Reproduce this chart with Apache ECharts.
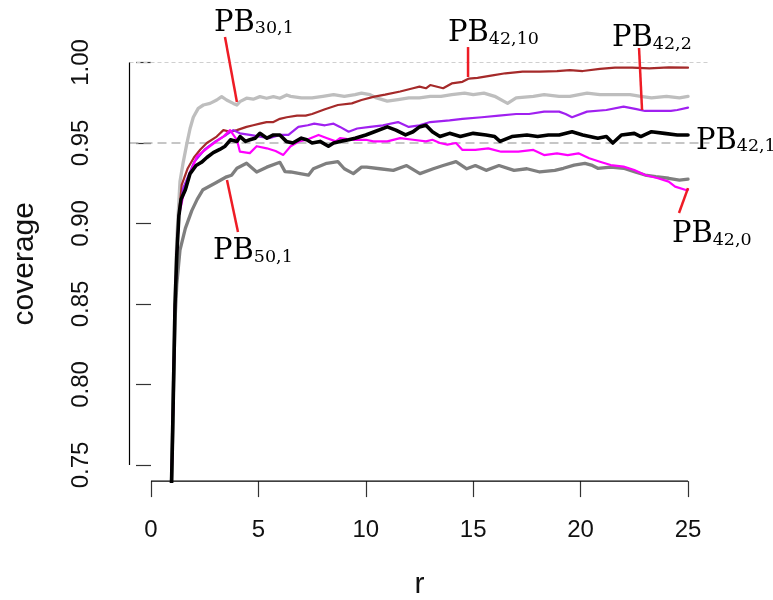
<!DOCTYPE html>
<html><head><meta charset="utf-8">
<script src="https://cdn.jsdelivr.net/npm/echarts@6/dist/echarts.min.js"></script>
<style>html,body{margin:0;padding:0;background:#fff}#c{width:773px;height:600px}</style>
</head><body><div id="c"></div>
<script>
// ---------- data ----------
const xTicks = [0, 5, 10, 15, 20, 25];
const yTicks = [0.75, 0.80, 0.85, 0.90, 0.95, 1.00];
const refLevels = [1.00, 0.95];
const xLabel = 'r';
const yLabel = 'coverage';

// [r, coverage]
const pb30_1 = [[0.95,0.735],[1.0,0.77],[1.1,0.84],[1.2,0.89],[1.35,0.926],[1.5,0.938],[1.66,0.949],[1.82,0.959],[1.97,0.966],[2.2,0.9715],[2.44,0.9736],[2.75,0.9746],[3.06,0.9767],[3.29,0.9788],[3.52,0.9767],[3.83,0.9746],[4.0,0.9736],[4.14,0.9757],[4.45,0.9778],[4.76,0.9772],[5.07,0.9788],[5.38,0.9778],[5.7,0.9788],[6.0,0.9778],[6.32,0.9798],[6.5,0.979],[7.0,0.978],[7.5,0.978],[8.0,0.979],[8.5,0.980],[9.0,0.979],[9.5,0.980],[9.8,0.981],[10.2,0.980],[10.5,0.978],[11.0,0.976],[11.5,0.977],[12.0,0.978],[12.5,0.978],[13.0,0.979],[13.5,0.979],[14.0,0.980],[14.6,0.981],[15.0,0.980],[15.5,0.981],[16.0,0.979],[16.6,0.9746],[17.0,0.978],[17.8,0.979],[18.3,0.980],[19.0,0.979],[19.5,0.979],[20.3,0.981],[20.9,0.980],[21.5,0.980],[22.3,0.980],[22.8,0.979],[23.3,0.978],[24.0,0.979],[24.6,0.978],[25.0,0.979]];
const pb50_1 = [[0.95,0.735],[1.0,0.765],[1.05,0.80],[1.12,0.84],[1.2,0.862],[1.35,0.8835],[1.6,0.897],[1.9,0.908],[2.15,0.915],[2.42,0.921],[2.7,0.923],[2.98,0.925],[3.25,0.927],[3.52,0.929],[3.75,0.930],[4.0,0.9343],[4.45,0.9374],[4.92,0.932],[5.39,0.935],[6.0,0.938],[6.24,0.9322],[6.5,0.932],[6.94,0.931],[7.33,0.930],[7.56,0.934],[8.18,0.9374],[8.7,0.9384],[9.0,0.934],[9.42,0.931],[9.8,0.935],[10.04,0.935],[10.66,0.934],[11.28,0.933],[11.9,0.936],[12.52,0.931],[13.14,0.934],[13.6,0.936],[14.2,0.9384],[14.7,0.934],[15.1,0.936],[15.6,0.933],[16.2,0.936],[16.9,0.933],[17.5,0.934],[18.1,0.932],[18.8,0.933],[19.2,0.9343],[19.7,0.9363],[20.2,0.9374],[20.5,0.9363],[20.8,0.9343],[21.4,0.935],[22.0,0.9343],[22.5,0.9322],[23.0,0.9301],[23.5,0.9291],[24.1,0.9281],[24.6,0.927],[25.0,0.9276]];
const pb42_10 = [[0.95,0.735],[1.0,0.765],[1.05,0.80],[1.12,0.85],[1.2,0.88],[1.3,0.905],[1.43,0.924],[1.7,0.934],[2.0,0.941],[2.3,0.946],[2.6,0.950],[3.06,0.954],[3.37,0.958],[3.7,0.957],[4.0,0.958],[4.45,0.960],[4.76,0.961],[5.07,0.962],[5.38,0.963],[5.7,0.963],[6.0,0.965],[6.32,0.966],[6.8,0.967],[7.2,0.967],[7.5,0.968],[8.1,0.971],[8.7,0.9736],[9.35,0.9746],[9.8,0.9767],[10.4,0.9788],[10.9,0.980],[11.6,0.982],[12.2,0.984],[12.5,0.985],[12.8,0.984],[13.0,0.986],[13.6,0.984],[14.0,0.987],[14.5,0.988],[14.8,0.990],[15.2,0.9905],[15.9,0.992],[16.5,0.9933],[17.3,0.9943],[18.1,0.9943],[18.9,0.9947],[19.5,0.9953],[20.1,0.9947],[20.9,0.996],[21.6,0.9968],[22.4,0.9968],[23.2,0.9964],[24.1,0.997],[25.0,0.9968]];
const pb42_2 = [[0.95,0.735],[1.0,0.765],[1.05,0.80],[1.12,0.85],[1.2,0.88],[1.3,0.905],[1.5,0.922],[2.0,0.938],[2.5,0.946],[3.0,0.951],[3.5,0.955],[3.83,0.958],[4.14,0.956],[4.6,0.955],[5.07,0.954],[5.5,0.953],[6.0,0.955],[6.4,0.955],[6.86,0.960],[7.3,0.961],[7.6,0.962],[8.1,0.961],[8.5,0.962],[8.8,0.960],[9.2,0.957],[9.6,0.959],[10.2,0.960],[10.8,0.961],[11.5,0.963],[12.0,0.960],[12.5,0.961],[13.0,0.963],[13.9,0.964],[14.5,0.965],[15.4,0.966],[16.2,0.967],[17.0,0.968],[17.6,0.968],[18.3,0.9695],[19.0,0.9695],[19.3,0.968],[19.6,0.966],[20.3,0.9695],[21.2,0.9705],[22.0,0.9726],[22.6,0.971],[23.0,0.9699],[23.7,0.970],[24.2,0.9699],[24.5,0.9705],[25.0,0.972]];
const pb42_0 = [[0.95,0.735],[1.0,0.765],[1.05,0.80],[1.12,0.85],[1.2,0.88],[1.3,0.905],[1.5,0.917],[1.8,0.930],[2.13,0.9415],[2.45,0.945],[2.75,0.948],[3.05,0.951],[3.37,0.954],[3.68,0.958],[4.0,0.952],[4.14,0.9446],[4.6,0.9437],[4.92,0.948],[5.39,0.9467],[5.8,0.945],[6.16,0.9426],[6.5,0.948],[6.9,0.951],[7.25,0.952],[7.8,0.955],[8.2,0.953],[8.6,0.951],[8.8,0.953],[9.4,0.952],[10.0,0.952],[10.35,0.951],[11.0,0.951],[11.6,0.953],[12.2,0.952],[12.8,0.951],[13.1,0.952],[13.45,0.950],[13.8,0.949],[14.2,0.950],[14.5,0.9457],[15.1,0.9457],[15.7,0.9467],[16.3,0.9446],[17.1,0.9446],[17.8,0.9457],[18.3,0.9425],[18.9,0.9436],[19.4,0.9425],[19.9,0.9436],[20.4,0.9405],[20.9,0.9384],[21.4,0.9363],[22.0,0.9353],[22.5,0.9332],[23.0,0.9301],[23.6,0.9281],[24.1,0.926],[24.4,0.9229],[24.9,0.9208],[25.0,0.921]];
const pb42_1 = [[0.95,0.735],[1.0,0.765],[1.05,0.80],[1.12,0.85],[1.2,0.88],[1.3,0.905],[1.4,0.915],[1.6,0.921],[1.82,0.931],[2.1,0.936],[2.35,0.938],[2.6,0.941],[2.9,0.944],[3.2,0.946],[3.45,0.948],[3.7,0.952],[4.0,0.951],[4.15,0.954],[4.4,0.951],[4.6,0.952],[4.85,0.953],[5.07,0.956],[5.4,0.953],[5.7,0.955],[6.0,0.955],[6.3,0.951],[6.6,0.950],[7.0,0.953],[7.25,0.952],[7.5,0.950],[7.87,0.951],[8.26,0.948],[8.5,0.950],[8.8,0.951],[9.2,0.952],[9.5,0.953],[10.0,0.955],[10.4,0.957],[11.0,0.960],[11.4,0.958],[11.85,0.955],[12.2,0.957],[12.5,0.960],[12.8,0.961],[13.1,0.957],[13.45,0.954],[13.9,0.956],[14.4,0.954],[15.0,0.956],[15.6,0.955],[16.0,0.954],[16.25,0.951],[16.8,0.954],[17.5,0.955],[18.0,0.954],[18.5,0.955],[19.0,0.955],[19.6,0.957],[20.1,0.955],[20.8,0.953],[21.2,0.954],[21.5,0.950],[21.9,0.955],[22.5,0.956],[22.8,0.954],[23.3,0.957],[23.9,0.956],[24.5,0.955],[25.0,0.955]];

// annotation text: base + subscript, leader line (data coords) and label baseline-left point (data coords)
const annotations = [
  {base:'PB', sub:'30,1',  line:[[3.445,1.0158],[4.0,0.9755]], at:[2.933,1.0191]},
  {base:'PB', sub:'50,1',  line:[[4.05,0.8947],[3.538,0.927]], at:[2.886,0.8773]},
  {base:'PB', sub:'42,10', line:[[14.76,1.0096],[14.76,0.991]], at:[13.827,1.0127]},
  {base:'PB', sub:'42,2',  line:[[22.72,1.009],[22.86,0.9705]], at:[21.462,1.0096]},
  {base:'PB', sub:'42,1',  line:null, at:[25.37,0.9457]},
  {base:'PB', sub:'42,0',  line:[[24.58,0.9065],[25.0,0.922]], at:[24.25,0.8879]}
];

// ---------- chart ----------
const curves = [
  {name:'PB30,1', data:pb30_1, color:'#bebebe', width:3.3},
  {name:'PB50,1', data:pb50_1, color:'#7f7f7f', width:3.3},
  {name:'PB42,10', data:pb42_10, color:'#a52a2a', width:2.2},
  {name:'PB42,2', data:pb42_2, color:'#a020f0', width:2.2},
  {name:'PB42,0', data:pb42_0, color:'#ff00ff', width:2.2},
  {name:'PB42,1', data:pb42_1, color:'#000000', width:3.6}
];
const X_MIN = -1, X_MAX = 26, Y_MIN = 0.74, Y_MAX = 1.01;
const FONT = 'Liberation Sans, Arial, sans-serif';

const chart = echarts.init(document.getElementById('c'), null, {renderer:'canvas'});
const series = [];
series.push({type:'line', silent:true, symbol:'none', clip:false, z:1,
  data:[[X_MIN, refLevels[0]],[X_MAX, refLevels[0]]],
  lineStyle:{color:'#cfcfcf', width:1, type:[4,3]}});
series.push({type:'line', silent:true, symbol:'none', clip:false, z:1,
  data:[[X_MIN, refLevels[1]],[X_MAX, refLevels[1]]],
  lineStyle:{color:'#b4b4b4', width:1.6, type:[9,5]}});
series.push({type:'line', silent:true, symbol:'none', clip:false, z:5,
  data:[[xTicks[0], Y_MIN],[xTicks[xTicks.length-1], Y_MIN]],
  lineStyle:{color:'#000', width:1.2}});
series.push({type:'line', silent:true, symbol:'none', clip:false, z:5,
  data:[[X_MIN, yTicks[0]],[X_MIN, yTicks[yTicks.length-1]]],
  lineStyle:{color:'#000', width:1.2}});
curves.forEach((c, i) => series.push({
  name:c.name, type:'line', symbol:'none', z:2+i*0.01, clip:true,
  data:c.data, lineStyle:{color:c.color, width:c.width, cap:'round', join:'round'}
}));
annotations.forEach(a => { if (a.line) series.push({
  type:'line', silent:true, symbol:'none', clip:false, z:8, data:a.line,
  lineStyle:{color:'#ee1c25', width:2.5}
});});

chart.setOption({
  animation:false,
  backgroundColor:'#ffffff',
  grid:{left:129.5, right:63.5, top:46.4, bottom:118.9, containLabel:false, outerBoundsMode:'none'},
  xAxis:{type:'value', min:X_MIN, max:X_MAX,
    axisLine:{show:false}, splitLine:{show:false},
    axisTick:{show:true, customValues:xTicks, length:16, inside:false, lineStyle:{color:'#333', width:1.2}},
    axisLabel:{show:true, customValues:xTicks, fontSize:24, color:'#111', fontFamily:FONT, margin:37},
    name:xLabel, nameLocation:'middle', nameGap:89,
    nameTextStyle:{fontSize:30, color:'#111', fontFamily:FONT}},
  yAxis:{type:'value', min:Y_MIN, max:Y_MAX,
    axisLine:{show:false}, splitLine:{show:false},
    axisTick:{show:true, customValues:yTicks, length:15, inside:false, lineStyle:{color:'#333', width:1.2}},
    axisLabel:{show:true, customValues:yTicks, rotate:90, fontSize:24, color:'#111', fontFamily:FONT, margin:36,
      formatter:v => v.toFixed(2)},
    name:yLabel, nameLocation:'middle', nameGap:90, nameRotate:90,
    nameTextStyle:{fontSize:30, color:'#111', fontFamily:FONT}},
  series:series
});

const graphics = annotations.map(a => {
  const p = chart.convertToPixel({gridIndex:0}, a.at);
  return {type:'text', x:p[0], y:p[1] + 6, z:20, silent:true,
    style:{text:'{b|' + a.base + '}{s|' + a.sub + '}', align:'left', verticalAlign:'bottom',
      textAlign:'left', textVerticalAlign:'bottom', fill:'#000',
      rich:{
        b:{fontFamily:'DejaVu Serif', fontSize:29, fill:'#000', color:'#000', verticalAlign:'bottom'},
        s:{fontFamily:'DejaVu Serif', fontSize:17.5, lineHeight:20, fill:'#000', color:'#000', verticalAlign:'bottom'}
      }}};
});
chart.setOption({graphic:graphics});
</script></body></html>
